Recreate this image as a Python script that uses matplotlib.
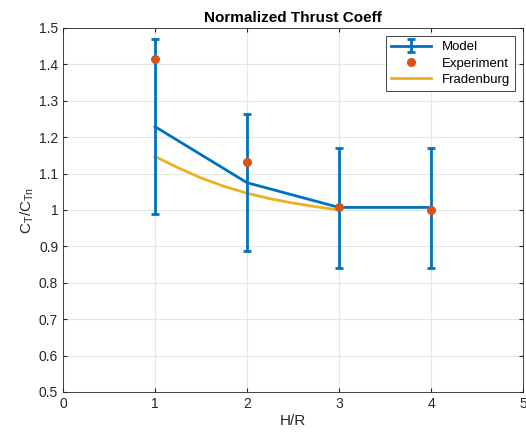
import matplotlib
matplotlib.use("Agg")
import matplotlib.pyplot as plt

# data
hr = [1, 2, 3, 4]
model = [1.229, 1.075, 1.007, 1.007]
model_up = [1.470, 1.264, 1.171, 1.171]
model_lo = [0.990, 0.886, 0.842, 0.842]
experiment = [1.415, 1.132, 1.007, 1.001]
frad_hr = [1.0, 1.25, 1.5, 1.75, 2.0, 2.25, 2.5, 2.75, 3.0]
frad = [1.147, 1.116, 1.088, 1.065, 1.046, 1.031, 1.019, 1.009, 1.0]

plt.rcParams['font.family'] = ['Liberation Sans', 'DejaVu Sans']

err_lo = [m - l for m, l in zip(model, model_lo)]
err_up = [u - m for m, u in zip(model, model_up)]

fig = plt.figure(figsize=(5.26, 4.34), dpi=100)
ax = fig.add_axes([0.1198, 0.0968, 0.8745, 0.8387])

h1 = ax.errorbar(hr, model, yerr=[err_lo, err_up], color="#0072BD", lw=2, capsize=3,
                 capthick=2, label="Model", zorder=3)
h2, = ax.plot(hr, experiment, "o", color="#D95319", ms=5.5, label="Experiment", zorder=4)
h3, = ax.plot(frad_hr, frad, color="#EDB120", lw=2, label="Fradenburg", zorder=2)

ax.set_xlim(0, 5)
ax.set_ylim(0.5, 1.5)
ax.set_xticks([0, 1, 2, 3, 4, 5])
ax.set_yticks([0.5, 0.6, 0.7, 0.8, 0.9, 1.0, 1.1, 1.2, 1.3, 1.4, 1.5])
ax.set_yticklabels(["0.5", "0.6", "0.7", "0.8", "0.9", "1", "1.1", "1.2", "1.3", "1.4", "1.5"])
ax.grid(True, color="#e6e6e6", lw=0.8)
ax.set_axisbelow(True)
ax.tick_params(direction="in", labelsize=10, colors="#262626", length=3, top=True, right=True)
for s in ax.spines.values():
    s.set_color("#262626")
    s.set_linewidth(0.6)

ax.set_title("Normalized Thrust Coeff", fontsize=11, fontweight="bold", pad=4)
ax.set_xlabel("H/R", fontsize=11, color="#262626", labelpad=2)
ax.set_ylabel("$\\mathregular{C_T/C_{Tn}}$", fontsize=11, color="#262626", labelpad=2)

leg = ax.legend([h1, h2, h3], ["Model", "Experiment", "Fradenburg"], loc="upper right",
                fontsize=9.5, fancybox=False, framealpha=1, edgecolor="#262626",
                borderaxespad=0.6, handlelength=3, labelspacing=0.3)
leg.get_frame().set_linewidth(0.6)

fig.savefig("out.png", dpi=100)
